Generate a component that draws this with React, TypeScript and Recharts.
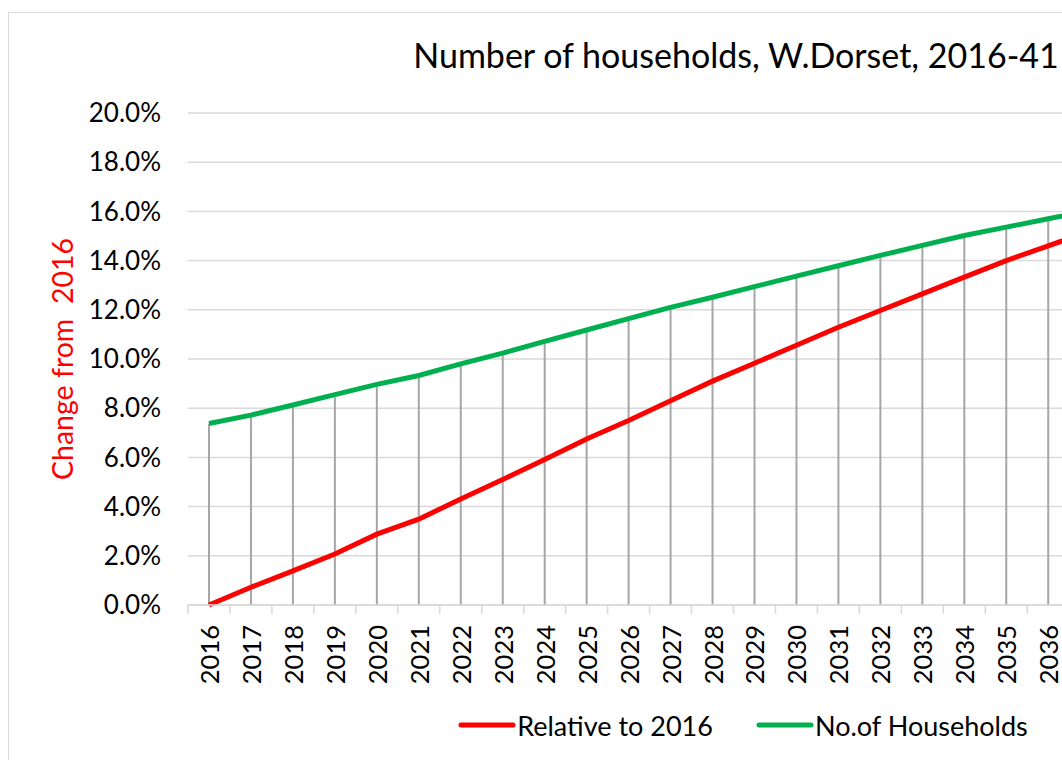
import {
  Bar,
  CartesianGrid,
  ComposedChart,
  Line,
  XAxis,
  YAxis
} from "recharts";

// Years on the category axis (chart covers 2016-41, picture is cropped at the right).
const years = [
  "2016", "2017", "2018", "2019", "2020", "2021", "2022", "2023", "2024",
  "2025", "2026", "2027", "2028", "2029", "2030", "2031", "2032", "2033",
  "2034", "2035", "2036", "2037", "2038", "2039", "2040", "2041"
];

// % change from 2016 (red series).
const relativeTo2016 = [
  0.0, 0.72, 1.39, 2.07, 2.88, 3.49, 4.31, 5.1, 5.91, 6.75, 7.5, 8.3, 9.1,
  9.83, 10.56, 11.29, 11.97, 12.65, 13.33, 14.0, 14.6, 15.2, null, null, null, null
];

// No. of households (green series), plotted against the same scale.
const households = [
  7.38, 7.72, 8.13, 8.55, 8.97, 9.33, 9.8, 10.24, 10.72, 11.18, 11.64, 12.1,
  12.51, 12.94, 13.37, 13.79, 14.21, 14.62, 15.02, 15.36, 15.7, 16.05, null, null, null, null
];

const yTicks = [0, 2, 4, 6, 8, 10, 12, 14, 16, 18, 20];

const seriesNames = ["Relative to 2016", "No.of Households"];
const seriesColors = ["#FF0000", "#00B050"];

const FONT = "Lato, 'Noto Sans', sans-serif";
const TICK_GAP = 20;

const chartData = years.map((year, i) => ({
  year,
  relative: relativeTo2016[i],
  households: households[i]
}));

// Rotated year label plus a small tick mark on the left band boundary.
function YearTick(props: any) {
  const { x, y, payload } = props;
  const half = payload && payload.offset ? payload.offset : 21;
  const axisY = y - TICK_GAP;
  return (
    <g>
      <line x1={x - half} x2={x - half} y1={axisY} y2={axisY + 9} stroke="#d9d9d9" strokeWidth={1.5} />
      <text
        x={x}
        y={y}
        transform={`rotate(-90, ${x}, ${y})`}
        textAnchor="end"
        dominantBaseline="central"
        fontSize={25.5}
        fontFamily={FONT}
        fill="#000"
      >
        {payload.value}
      </text>
    </g>
  );
}

function YTitle(props: any) {
  const { viewBox } = props;
  const cx = viewBox.x + 53;
  const cy = viewBox.y + viewBox.height / 2;
  return (
    <text
      x={cx}
      y={cy}
      transform={`rotate(-90, ${cx}, ${cy})`}
      textAnchor="middle"
      dominantBaseline="central"
      fontSize={28.5}
      fontFamily={FONT}
      fill="#FF0000"
      style={{ whiteSpace: "pre" }}
    >
      {"Change from  2016"}
    </text>
  );
}

export default function App() {
  return (
    <div style={{ position: "fixed", left: 0, top: 0, width: 1062, height: 760, overflow: "hidden", background: "#fff" }}>
      <div
        style={{
          position: "absolute",
          left: 8,
          top: 12,
          width: 1464,
          height: 800,
          border: "1px solid #d9d9d9",
          background: "#fff",
          fontFamily: FONT
        }}
      >
        <div
          style={{
            position: "absolute",
            left: -5,
            top: 21,
            width: 1464,
            textAlign: "center",
            fontSize: 34,
            lineHeight: "42px",
            color: "#000"
          }}
        >
          Number of households, W.Dorset, 2016-41
        </div>

        <ComposedChart
          width={1464}
          height={780}
          data={chartData}
          margin={{ top: 100, right: 194, bottom: 68, left: 0 }}
        >
          <CartesianGrid vertical={false} stroke="#d9d9d9" strokeWidth={1.5} />
          <XAxis
            dataKey="year"
            interval={0}
            height={120}
            tickSize={0}
            tickMargin={TICK_GAP}
            tickLine={false}
            axisLine={{ stroke: "#d9d9d9", strokeWidth: 1.5 }}
            tick={<YearTick />}
          />
          <YAxis
            width={179}
            domain={[0, 20]}
            ticks={yTicks}
            tickFormatter={(v: number) => `${v.toFixed(1)}%`}
            axisLine={false}
            tickLine={false}
            tickSize={0}
            tickMargin={27}
            tick={{ fontSize: 26, fontFamily: FONT, fill: "#000" }}
            label={<YTitle />}
          />
          {/* drop lines from the upper series down to the axis */}
          <Bar dataKey="households" barSize={2} fill="#a6a6a6" isAnimationActive={false} />
          <Line
            dataKey="households"
            name={seriesNames[1]}
            stroke={seriesColors[1]}
            strokeWidth={5}
            dot={false}
            activeDot={false}
            type="linear"
            isAnimationActive={false}
          />
          <Line
            dataKey="relative"
            name={seriesNames[0]}
            stroke={seriesColors[0]}
            strokeWidth={5}
            dot={false}
            activeDot={false}
            type="linear"
            isAnimationActive={false}
          />
        </ComposedChart>

        <div
          style={{
            position: "absolute",
            left: 2,
            top: 695,
            width: 1464,
            height: 34,
            display: "flex",
            justifyContent: "center",
            alignItems: "center",
            gap: 43
          }}
        >
          {seriesNames.map((name, i) => (
            <div key={name} style={{ display: "flex", alignItems: "center" }}>
              <svg width={58} height={10}>
                <line x1={3} x2={55} y1={5} y2={5} stroke={seriesColors[i]} strokeWidth={5} strokeLinecap="round" />
              </svg>
              <span style={{ fontSize: 27, marginLeft: 1, color: "#000" }}>{name}</span>
            </div>
          ))}
        </div>
      </div>
    </div>
  );
}
